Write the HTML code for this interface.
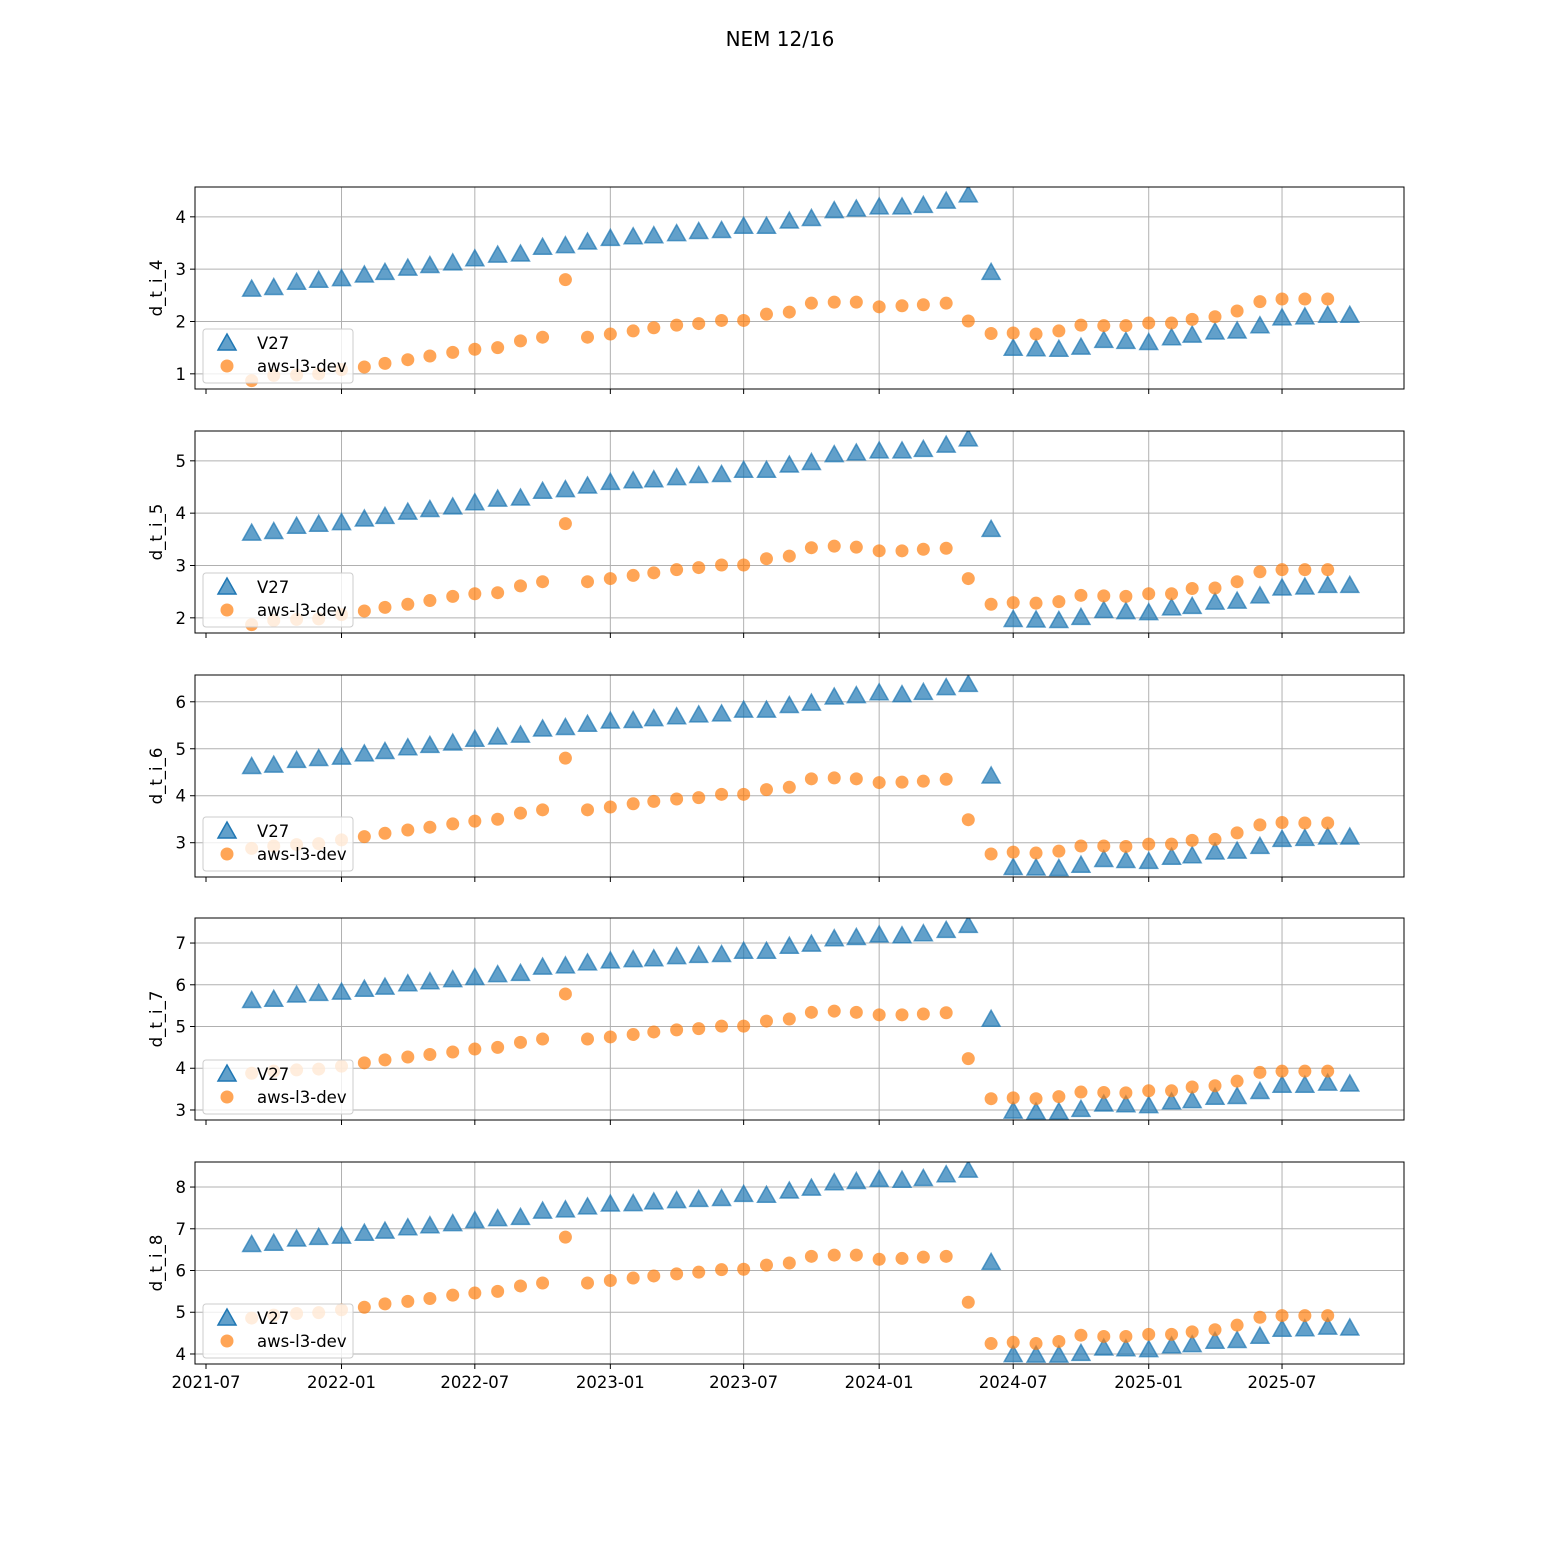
<!DOCTYPE html>
<html><head><meta charset="utf-8"><style>
html,body{margin:0;padding:0;background:#fff;}
svg{display:block;font-family:"DejaVu Sans","Liberation Sans",sans-serif;}
</style></head><body>
<svg id="chart" width="1560" height="1560" viewBox="0 0 1560 1560" xmlns="http://www.w3.org/2000/svg">
<rect width="1560" height="1560" fill="#fff"/>
<text x="780" y="46" text-anchor="middle" font-size="20">NEM 12/16</text>
</svg>
<script>
const monthsV27Start = [2021, 9];
const monthsDevStart = [2021, 9];
const xTickLabels = ["2021-07","2022-01","2022-07","2023-01","2023-07","2024-01","2024-07","2025-01","2025-07"];
const yLabels = ["d_t_i_4","d_t_i_5","d_t_i_6","d_t_i_7","d_t_i_8"];
const v27_4 = [2.6,2.63,2.73,2.77,2.8,2.87,2.92,3.0,3.05,3.1,3.18,3.25,3.27,3.4,3.43,3.5,3.57,3.6,3.62,3.66,3.7,3.72,3.8,3.8,3.9,3.95,4.1,4.13,4.17,4.17,4.2,4.28,4.4,2.92,1.47,1.46,1.45,1.49,1.62,1.6,1.58,1.67,1.72,1.78,1.8,1.9,2.05,2.07,2.1,2.1];
const dev_4 = [0.87,0.97,0.98,1.0,1.08,1.13,1.2,1.27,1.34,1.41,1.47,1.5,1.63,1.7,2.8,1.7,1.76,1.82,1.88,1.93,1.96,2.02,2.02,2.14,2.18,2.35,2.37,2.37,2.28,2.3,2.32,2.35,2.01,1.77,1.78,1.76,1.82,1.93,1.92,1.92,1.97,1.97,2.04,2.09,2.2,2.38,2.43,2.43,2.43];
const v27_5 = [3.6,3.63,3.73,3.77,3.8,3.87,3.92,4.0,4.05,4.1,4.18,4.25,4.27,4.4,4.43,4.5,4.57,4.6,4.62,4.66,4.7,4.72,4.8,4.8,4.9,4.95,5.1,5.13,5.17,5.17,5.2,5.28,5.4,3.67,1.95,1.94,1.93,1.99,2.12,2.1,2.08,2.17,2.2,2.28,2.3,2.4,2.55,2.57,2.6,2.6];
const dev_5 = [1.87,1.95,1.97,1.98,2.06,2.13,2.2,2.26,2.33,2.41,2.46,2.48,2.61,2.69,3.8,2.69,2.75,2.81,2.86,2.92,2.96,3.01,3.01,3.13,3.18,3.34,3.37,3.35,3.28,3.28,3.31,3.33,2.75,2.26,2.29,2.28,2.31,2.43,2.42,2.41,2.46,2.46,2.56,2.57,2.69,2.88,2.92,2.92,2.92];
const v27_6 = [4.6,4.63,4.73,4.77,4.8,4.87,4.92,5.0,5.05,5.1,5.18,5.23,5.27,5.4,5.43,5.5,5.57,5.58,5.62,5.66,5.7,5.72,5.8,5.8,5.9,5.95,6.08,6.11,6.17,6.13,6.18,6.28,6.35,4.4,2.45,2.44,2.43,2.5,2.62,2.6,2.58,2.67,2.7,2.78,2.8,2.9,3.05,3.07,3.1,3.1];
const dev_6 = [2.88,2.93,2.96,2.98,3.06,3.13,3.2,3.27,3.33,3.4,3.46,3.5,3.63,3.7,4.8,3.7,3.76,3.83,3.88,3.93,3.96,4.03,4.03,4.13,4.18,4.36,4.38,4.36,4.28,4.29,4.31,4.35,3.49,2.76,2.8,2.78,2.82,2.93,2.93,2.92,2.97,2.97,3.05,3.07,3.21,3.38,3.43,3.42,3.42];
const v27_7 = [5.6,5.63,5.73,5.77,5.8,5.87,5.92,6.0,6.05,6.1,6.15,6.22,6.25,6.4,6.43,6.5,6.55,6.58,6.6,6.65,6.68,6.7,6.78,6.78,6.9,6.95,7.08,7.11,7.17,7.15,7.2,7.28,7.4,5.15,2.95,2.93,2.93,2.99,3.12,3.1,3.08,3.17,3.2,3.28,3.3,3.42,3.57,3.57,3.62,3.6];
const dev_7 = [3.88,3.93,3.96,3.98,4.05,4.13,4.2,4.27,4.33,4.39,4.46,4.5,4.62,4.7,5.78,4.7,4.75,4.81,4.87,4.92,4.95,5.01,5.01,5.13,5.18,5.34,5.37,5.34,5.28,5.28,5.3,5.33,4.23,3.27,3.29,3.27,3.32,3.43,3.42,3.41,3.46,3.46,3.55,3.58,3.69,3.9,3.93,3.93,3.93];
const v27_8 = [6.6,6.63,6.73,6.77,6.8,6.87,6.92,7.0,7.05,7.1,7.17,7.22,7.25,7.4,7.43,7.5,7.57,7.58,7.62,7.65,7.68,7.7,7.8,7.78,7.88,7.95,8.08,8.11,8.16,8.14,8.18,8.27,8.38,6.17,3.96,3.95,3.95,3.99,4.12,4.1,4.08,4.17,4.2,4.28,4.3,4.4,4.57,4.58,4.62,4.6];
const dev_8 = [4.86,4.93,4.97,4.99,5.06,5.12,5.2,5.26,5.33,5.41,5.46,5.5,5.63,5.7,6.8,5.7,5.76,5.82,5.87,5.92,5.96,6.02,6.03,6.13,6.18,6.34,6.37,6.37,6.27,6.29,6.32,6.34,5.24,4.25,4.28,4.25,4.3,4.45,4.42,4.42,4.47,4.47,4.53,4.58,4.69,4.88,4.92,4.92,4.92];

const panels = [
 {v:v27_4,d:dev_4,top:187,ymin:0.71,ymax:4.57,ticks:[1,2,3,4]},
 {v:v27_5,d:dev_5,top:431,ymin:1.71,ymax:5.57,ticks:[2,3,4,5]},
 {v:v27_6,d:dev_6,top:675,ymin:2.27,ymax:6.57,ticks:[3,4,5,6]},
 {v:v27_7,d:dev_7,top:918,ymin:2.76,ymax:7.6,ticks:[3,4,5,6,7]},
 {v:v27_8,d:dev_8,top:1162,ymin:3.76,ymax:8.6,ticks:[4,5,6,7,8]}
];
const NS="http://www.w3.org/2000/svg";
const svg=document.getElementById('chart');
const L=195,R=1404,H=202,FS=16.5;
const day0=Date.UTC(2021,6,1);
function xOfDate(y,m){return 206+(Date.UTC(y,m-1,1)-day0)/86400000*0.7365;}
function monthAt(start,i){let m=start[1]-1+i;return [start[0]+Math.floor(m/12),(m%12)+1];}
function el(tag,attrs,parent){const e=document.createElementNS(NS,tag);for(const k in attrs)e.setAttribute(k,attrs[k]);(parent||svg).appendChild(e);return e;}
function tri(cx,cy){return `${cx},${cy-10} ${cx-9},${cy+6} ${cx+9},${cy+6}`;}

panels.forEach((p,pi)=>{
 const g=el('g',{});
 
 
 const yOf=v=>p.top+H-(v-p.ymin)/(p.ymax-p.ymin)*H;
 const cp=el('clipPath',{id:'c'+pi},g);
 el('rect',{x:L,y:p.top,width:R-L,height:H},cp);
 xTickLabels.forEach((t,i)=>{
  const [yy,mm]=t.split('-').map(Number);const x=xOfDate(yy,mm);
  if(i>0){const gl=el('line',{x1:x,x2:x,y1:p.top,y2:p.top+H,stroke:'#b0b0b0','stroke-width':1},g);
   
   }
  el('line',{x1:x,x2:x,y1:p.top+H,y2:p.top+H+5,stroke:'#000','stroke-width':1},g);
  if(pi===4){const tx=el('text',{x:x,y:p.top+H+24,'text-anchor':'middle','font-size':FS},g);tx.textContent=t;
   
   }
 });
 p.ticks.forEach(t=>{
  const y=yOf(t);
  el('line',{x1:L,x2:R,y1:y,y2:y,stroke:'#b0b0b0','stroke-width':1},g);
  el('line',{x1:L-5,x2:L,y1:y,y2:y,stroke:'#000','stroke-width':1},g);
  const tx=el('text',{x:L-9,y:y+6,'text-anchor':'end','font-size':FS},g);tx.textContent=t;
  
  
 });
 const yl=el('text',{x:0,y:0,'text-anchor':'middle','font-size':FS,transform:`translate(162,${p.top+H/2}) rotate(-90)`},g);
 yl.textContent=yLabels[pi];
 
 
 const mg=el('g',{'clip-path':`url(#c${pi})`},g);
 p.v.forEach((v,i)=>{const [yy,mm]=monthAt(monthsV27Start,i);
  const m=el('polygon',{points:tri(xOfDate(yy,mm),yOf(v)),fill:'#1f77b4','fill-opacity':0.7,stroke:'#1f77b4','stroke-opacity':0.7,'stroke-width':1.5},mg);
  
  });
 p.d.forEach((v,i)=>{const [yy,mm]=monthAt(monthsDevStart,i);
  const m=el('circle',{cx:xOfDate(yy,mm),cy:yOf(v),r:6.5,fill:'#ff7f0e','fill-opacity':0.7},mg);
  
  });
 el('rect',{x:L,y:p.top,width:R-L,height:H,fill:'none',stroke:'#000','stroke-width':1},g);
 const lg=el('g',{},g);
 
 
 const ly=p.top+142;
 el('rect',{x:203,y:ly,width:150,height:54,rx:3,fill:'#fff','fill-opacity':0.8,stroke:'#ccc','stroke-width':1},lg);
 el('polygon',{points:tri(227,ly+15),fill:'#1f77b4','fill-opacity':0.7,stroke:'#1f77b4','stroke-width':1.5},lg);
 el('circle',{cx:227,cy:ly+37,r:6.5,fill:'#ff7f0e','fill-opacity':0.7},lg);
 const t1=el('text',{x:257,y:ly+20,'font-size':FS},lg);t1.textContent='V27';
 const t2=el('text',{x:257,y:ly+43,'font-size':FS},lg);t2.textContent='aws-l3-dev';
});
</script>
</body></html>
